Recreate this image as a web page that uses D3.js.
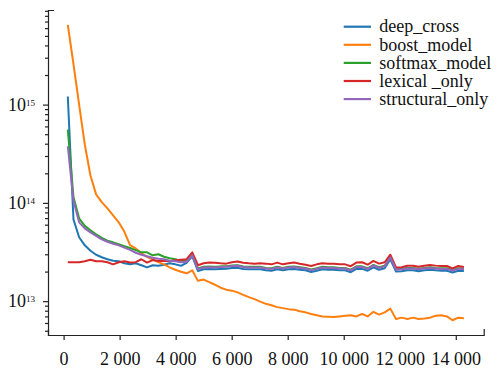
<!DOCTYPE html>
<html><head><meta charset="utf-8">
<script src="https://cdn.jsdelivr.net/npm/d3@7"></script>
<style>
body{margin:0;background:#fff}
svg{display:block}
svg text{font-family:'Liberation Serif';fill:#111}
</style>
</head><body>
<svg id="c" width="497" height="368"></svg>
<script>
const iterations = [150,352,554,756,958,1160,1362,1564,1766,1968,2170,2372,2574,2776,2978,3180,3382,3584,3786,3988,4190,4392,4594,4796,4998,5200,5402,5604,5806,6008,6210,6412,6614,6816,7018,7220,7422,7624,7826,8028,8230,8432,8634,8836,9038,9240,9442,9644,9846,10048,10250,10452,10654,10856,11058,11260,11462,11664,11866,12068,12270,12472,12674,12876,13078,13280,13482,13684,13886,14088,14290];

const seriesNames = ["deep_cross","boost_model","softmax_model","lexical _only","structural_only"];

const deepCross = [121e13,6.8e13,4.47e13,3.7e13,3.26e13,2.97e13,2.8e13,2.67e13,2.58e13,2.55e13,2.43e13,2.37e13,2.43e13,2.32e13,2.21e13,2.32e13,2.29e13,2.35e13,2.43e13,2.37e13,2.29e13,2.46e13,2.86e13,2.03e13,2.11e13,2.12e13,2.11e13,2.13e13,2.14e13,2.18e13,2.19e13,2.13e13,2.11e13,2.11e13,2.11e13,2.06e13,2.04e13,2.11e13,2.06e13,2.11e13,2.13e13,2.09e13,2.06e13,1.98e13,2.04e13,2.11e13,2.09e13,2.09e13,2.06e13,2.06e13,1.97e13,2.13e13,2.13e13,2.04e13,2.21e13,2.09e13,2.16e13,2.67e13,2.00e13,2.02e13,2.06e13,2.06e13,2.02e13,2.06e13,2.09e13,2.06e13,2.04e13,2.04e13,1.96e13,2.04e13,2.03e13];

const boostModel = [649e13,259e13,100e13,39.3e13,19.0e13,12.2e13,10.2e13,8.79e13,7.47e13,6.34e13,5.08e13,3.72e13,3.44e13,3.07e13,2.83e13,2.65e13,2.50e13,2.37e13,2.21e13,2.09e13,1.99e13,1.92e13,2.06e13,1.61e13,1.66e13,1.56e13,1.47e13,1.37e13,1.31e13,1.28e13,1.23e13,1.16e13,1.10e13,1.05e13,0.99e13,0.94e13,0.91e13,0.87e13,0.85e13,0.83e13,0.82e13,0.79e13,0.77e13,0.74e13,0.72e13,0.70e13,0.696e13,0.69e13,0.70e13,0.71e13,0.72e13,0.70e13,0.74e13,0.70e13,0.78e13,0.73e13,0.77e13,0.84e13,0.66e13,0.68e13,0.66e13,0.68e13,0.66e13,0.665e13,0.68e13,0.71e13,0.72e13,0.70e13,0.64e13,0.68e13,0.67e13];

const softmaxModel = [55.7e13,11.5e13,6.96e13,5.84e13,5.26e13,4.79e13,4.41e13,4.13e13,3.97e13,3.79e13,3.63e13,3.47e13,3.31e13,3.14e13,3.14e13,2.93e13,3.0e13,2.83e13,2.73e13,2.67e13,2.58e13,2.58e13,2.93e13,2.15e13,2.24e13,2.25e13,2.24e13,2.26e13,2.27e13,2.31e13,2.32e13,2.26e13,2.24e13,2.24e13,2.24e13,2.18e13,2.16e13,2.24e13,2.18e13,2.24e13,2.26e13,2.22e13,2.18e13,2.10e13,2.16e13,2.24e13,2.22e13,2.22e13,2.18e13,2.18e13,2.09e13,2.26e13,2.26e13,2.16e13,2.34e13,2.22e13,2.29e13,2.85e13,2.12e13,2.14e13,2.18e13,2.18e13,2.14e13,2.18e13,2.22e13,2.18e13,2.16e13,2.16e13,2.08e13,2.16e13,2.15e13];

const lexicalOnly = [2.49e13,2.49e13,2.49e13,2.55e13,2.64e13,2.55e13,2.55e13,2.49e13,2.37e13,2.49e13,2.55e13,2.47e13,2.49e13,2.67e13,2.47e13,2.62e13,2.57e13,2.58e13,2.55e13,2.61e13,2.64e13,2.67e13,3.14e13,2.32e13,2.43e13,2.47e13,2.46e13,2.43e13,2.41e13,2.49e13,2.53e13,2.46e13,2.43e13,2.41e13,2.43e13,2.41e13,2.37e13,2.47e13,2.37e13,2.43e13,2.47e13,2.40e13,2.35e13,2.28e13,2.37e13,2.43e13,2.40e13,2.40e13,2.37e13,2.37e13,2.27e13,2.47e13,2.49e13,2.35e13,2.57e13,2.41e13,2.49e13,2.97e13,2.20e13,2.21e13,2.29e13,2.29e13,2.24e13,2.29e13,2.33e13,2.30e13,2.28e13,2.28e13,2.16e13,2.28e13,2.23e13];

const structuralOnly = [37.7e13,10.5e13,6.34e13,5.51e13,5.01e13,4.62e13,4.26e13,4.02e13,3.84e13,3.70e13,3.51e13,3.33e13,3.11e13,2.97e13,2.86e13,2.77e13,2.70e13,2.67e13,2.58e13,2.55e13,2.49e13,2.52e13,2.93e13,2.12e13,2.20e13,2.21e13,2.20e13,2.23e13,2.24e13,2.28e13,2.29e13,2.23e13,2.20e13,2.20e13,2.20e13,2.15e13,2.13e13,2.20e13,2.15e13,2.20e13,2.23e13,2.18e13,2.15e13,2.07e13,2.13e13,2.20e13,2.18e13,2.18e13,2.15e13,2.15e13,2.06e13,2.23e13,2.23e13,2.13e13,2.31e13,2.18e13,2.26e13,2.80e13,2.09e13,2.11e13,2.15e13,2.15e13,2.11e13,2.15e13,2.18e13,2.15e13,2.13e13,2.13e13,2.05e13,2.13e13,2.12e13];

const xTickValues = [0,2000,4000,6000,8000,10000,12000,14000];
const yMajorTicks = [1e13,1e14,1e15];

const seriesValues = [deepCross, boostModel, softmaxModel, lexicalOnly, structuralOnly];
const colors = ["#1f77b4","#ff7f0e","#2ca02c","#d62728","#9467bd"];

const svg = d3.select("#c");
const plotLeft = 48, plotRight = 483.7, plotTop = 10, plotBottom = 335;
const axisColor = "#222";
const serif = "'Liberation Serif'";

const xExt = d3.extent(iterations);
const xPad = (xExt[1] - xExt[0]) * 0.05;
const x = d3.scaleLinear().domain([xExt[0] - xPad, xExt[1] + xPad]).range([plotLeft, plotRight]);

const allVals = [].concat(...seriesValues);
const lmin = Math.log10(d3.min(allVals)), lmax = Math.log10(d3.max(allVals));
const lp = (lmax - lmin) * 0.05;
const y = d3.scaleLog().domain([Math.pow(10, lmin - lp), Math.pow(10, lmax + lp)]).range([plotBottom, plotTop]);

const loc = d3.formatLocale({decimal: ".", thousands: " ", grouping: [3], currency: ["", ""]});
const xFmt = loc.format(",d");

// x axis
const gx = svg.append("g").attr("transform", `translate(0,${plotBottom})`)
  .call(d3.axisBottom(x).tickValues(xTickValues).tickFormat(xFmt)
    .tickSizeInner(5).tickSizeOuter(-6).tickPadding(12));

// y minor ticks
const minorTicks = y.ticks().filter(v => !yMajorTicks.some(m => Math.abs(m - v) / m < 1e-9));
const gym = svg.append("g").attr("transform", `translate(${plotLeft},0)`)
  .call(d3.axisLeft(y).tickValues(minorTicks).tickSize(3).tickFormat(() => ""));
gym.select(".domain").remove();

// y major
const gy = svg.append("g").attr("transform", `translate(${plotLeft},0)`)
  .call(d3.axisLeft(y).tickValues(yMajorTicks).tickFormat(() => "")
    .tickSizeInner(5).tickSizeOuter(-6).tickPadding(8));

gy.selectAll(".tick text").each(function(d) {
  const t = d3.select(this);
  t.text(null);
  t.append("tspan").text("10");
  t.append("tspan").attr("dy", -5).attr("font-size", 9).text(String(Math.round(Math.log10(d))));
});

[gx, gy, gym].forEach(g => {
  g.attr("color", axisColor).attr("font-size", 18).attr("font-family", serif);
  g.selectAll("path,line").attr("stroke-width", 1.2);
  g.selectAll("text").attr("fill", "#111").style("font-family", serif);
});

// lines
const line = d3.line().x((d, i) => x(iterations[i])).y(d => y(d));
seriesValues.forEach((vals, i) => {
  svg.append("path").datum(vals)
    .attr("fill", "none").attr("stroke", colors[i])
    .attr("stroke-width", 2).attr("stroke-linejoin", "round")
    .attr("d", line);
});

// legend
const lg = svg.append("g");
seriesNames.forEach((name, i) => {
  const yy = 26.7 + i * 18.1;
  lg.append("line").attr("x1", 343.7).attr("x2", 371).attr("y1", yy).attr("y2", yy)
    .attr("stroke", colors[i]).attr("stroke-width", 2.2);
  lg.append("text").attr("x", 379.3).attr("y", yy).attr("dy", "0.32em")
    .attr("font-size", 18).style("font-family", serif).text(name);
});
</script>
</body></html>
